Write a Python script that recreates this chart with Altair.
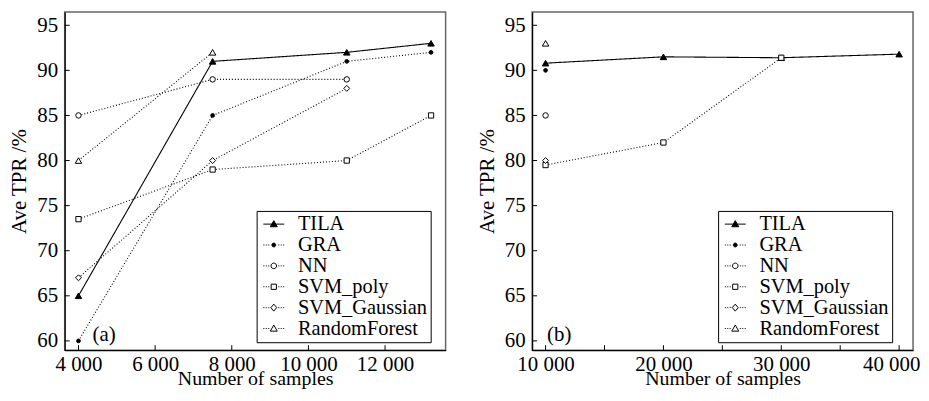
import altair as alt
import pandas as pd

series = ["TILA", "GRA", "NN", "SVM_poly", "SVM_Gaussian", "RandomForest"]

# Panel (a)
a_x = [4000, 7500, 11000, 13200]
a_TILA = [65, 91, 92, 93]
a_GRA = [60, 85, 91, 92]
a_NN = [85, 89, 89, None]
a_SVM_poly = [73.5, 79, 80, 85]
a_SVM_Gaussian = [67, 80, 88, None]
a_RandomForest = [80, 92, None, None]

# Panel (b)
b_x = [10000, 20000, 30000, 40000]
b_TILA = [90.8, 91.5, 91.4, 91.8]
b_GRA = [90, None, None, None]
b_NN = [85, None, None, None]
b_SVM_poly = [79.5, 82, 91.4, None]
b_SVM_Gaussian = [80, None, None, None]
b_RandomForest = [93, None, None, None]

y_ticks = [60, 65, 70, 75, 80, 85, 90, 95]
a_x_ticks = [4000, 6000, 8000, 10000, 12000]
b_x_ticks = [10000, 15000, 20000, 25000, 30000, 35000, 40000]
b_x_labels = [10000, 20000, 30000, 40000]

FONT = "Liberation Serif"
FS = 21
W, H = 383, 340


def long_df(xs, cols):
    rows = []
    for name, vals in zip(series, cols):
        for x, v in zip(xs, vals):
            if v is not None:
                rows.append({"x": x, "y": v, "series": name, "marker": name})
    return pd.DataFrame(rows)


dash_range = [[1, 0], [1, 2], [1, 2], [1, 2], [1, 2], [1, 2]]
shape_range = ["triangle-up", "circle", "circle", "square", "diamond", "triangle-up"]
fill_range = ["black", "black", "white", "white", "white", "white"]
size_range = [42, 14, 30, 28, 36, 42]

# legend glyphs: a short line sample with the marker in its middle (unit coords)
SOLID = "M-3,0H3"
DOTS = "M-3,0h0.3M-2.3,0h0.3M-1.6,0h0.3M1.3,0h0.3M2,0h0.3M2.7,0h0.3"
TRI = "M0,-1L1,0.75L-1,0.75Z"
def circ(r):
    return f"M{-r},0A{r},{r},0,1,0,{r},0A{r},{r},0,1,0,{-r},0Z"
SQ = "M-0.75,-0.75H0.75V0.75H-0.75Z"
DIA = "M0,-1L0.85,0L0,1L-0.85,0Z"
legend_paths = [SOLID + TRI, DOTS + circ(0.55), DOTS + circ(0.8), DOTS + SQ,
                DOTS + DIA, DOTS + TRI]

label_expr = "replace(format(datum.value, ','), ',', ' ')"


def panel(df, xdom, xvals, xticks, tag, legx, legy, last_shift):
    xs = alt.Scale(domain=xdom, nice=False, zero=False)
    ys = alt.Scale(domain=[58.97, 96.47], nice=False, zero=False)
    x_axis = alt.Axis(values=xvals, title="Number of samples", labelExpr=label_expr,
                      labelFlush=False, labelOverlap=False,
                      labelOffset={"condition": {"test": f"datum.value == {xvals[-1]}",
                                                 "value": last_shift}, "value": 0})
    y_axis = alt.Axis(values=y_ticks, title="Ave TPR /%")

    leg = alt.Legend(title=None, orient="none", legendX=legx, legendY=legy,
                     symbolSize=49, symbolStrokeWidth=1, strokeColor="black",
                     padding=3, symbolOffset=4, labelOffset=14,
                     labelFont=FONT, labelFontSize=20.5, labelColor="black",
                     rowPadding=0)

    lines = alt.Chart(df).mark_line(color="black", strokeWidth=1.1).encode(
        x=alt.X("x:Q", scale=xs, axis=x_axis),
        y=alt.Y("y:Q", scale=ys, axis=y_axis),
        strokeDash=alt.StrokeDash("series:N", scale=alt.Scale(domain=series, range=dash_range),
                                  legend=None),
    )
    pts = alt.Chart(df).mark_point(color="black", strokeWidth=1, opacity=1).encode(
        x=alt.X("x:Q", scale=xs, axis=x_axis),
        y=alt.Y("y:Q", scale=ys, axis=y_axis),
        shape=alt.Shape("marker:N", scale=alt.Scale(domain=series, range=shape_range),
                        legend=None),
        fill=alt.Fill("marker:N", scale=alt.Scale(domain=series, range=fill_range),
                      legend=None),
        size=alt.Size("marker:N", scale=alt.Scale(type="ordinal", domain=series, range=size_range),
                      legend=None),
    )
    ghost = alt.Chart(df).transform_filter("false").mark_point(
        color="black", strokeWidth=1, opacity=1
    ).encode(
        shape=alt.Shape("series:N", scale=alt.Scale(domain=series, range=legend_paths),
                        legend=leg),
        fill=alt.Fill("series:N", scale=alt.Scale(domain=series, range=fill_range),
                      legend=leg),
        stroke=alt.Stroke("series:N", scale=alt.Scale(domain=series, range=["black"] * 6),
                          legend=leg),
    )
    yt = alt.Chart(pd.DataFrame({"y": y_ticks})).mark_rule(color="black", strokeWidth=1).encode(
        y=alt.Y("y:Q", scale=ys, axis=y_axis),
        x=alt.value(0), x2=alt.value(5),
    )
    xt = alt.Chart(pd.DataFrame({"x": xticks})).mark_rule(color="black", strokeWidth=1).encode(
        x=alt.X("x:Q", scale=xs, axis=x_axis),
        y=alt.value(H), y2=alt.value(H - 5),
    )
    lab = alt.Chart(pd.DataFrame({"t": [tag]})).mark_text(
        font=FONT, fontSize=FS, align="left", baseline="middle", color="black"
    ).encode(text="t:N", x=alt.value(28 if tag == "(a)" else 15), y=alt.value(H - 15))
    return alt.layer(lines, pts, ghost, yt, xt, lab).resolve_scale(
        shape="independent", fill="independent", stroke="independent"
    ).properties(width=W, height=H)


dfa = long_df(a_x, [a_TILA, a_GRA, a_NN, a_SVM_poly, a_SVM_Gaussian, a_RandomForest])
dfb = long_df(b_x, [b_TILA, b_GRA, b_NN, b_SVM_poly, b_SVM_Gaussian, b_RandomForest])

pa = panel(dfa, [3640, 13580], a_x_ticks, a_x_ticks, "(a)", 193, 200, 0)
pb = panel(dfb, [8860, 41180], b_x_labels, b_x_ticks, "(b)", 187, 200, -8)

chart = alt.hconcat(pa, pb, spacing=29).resolve_scale(
    strokeDash="independent", shape="independent", fill="independent",
    size="independent", stroke="independent"
).resolve_legend(
    shape="independent", fill="independent", stroke="independent"
).properties(
    padding={"left": 0, "top": 2, "right": 0, "bottom": 0}
).configure_view(
    stroke="#666666", strokeWidth=1.5
).configure_axis(
    ticks=False, grid=False, domainColor="black", domainWidth=1.2,
    labelFont=FONT, labelFontSize=FS, labelColor="black",
    titleFont=FONT, titleFontSize=FS, titleColor="black", titleFontWeight="normal",
).configure_axisY(
    labelPadding=7, titlePadding=7
).configure_axisX(labelPadding=3, titlePadding=-5, titleFontSize=20)

chart.save("out.html", embed_options={"renderer": "svg", "actions": False})
